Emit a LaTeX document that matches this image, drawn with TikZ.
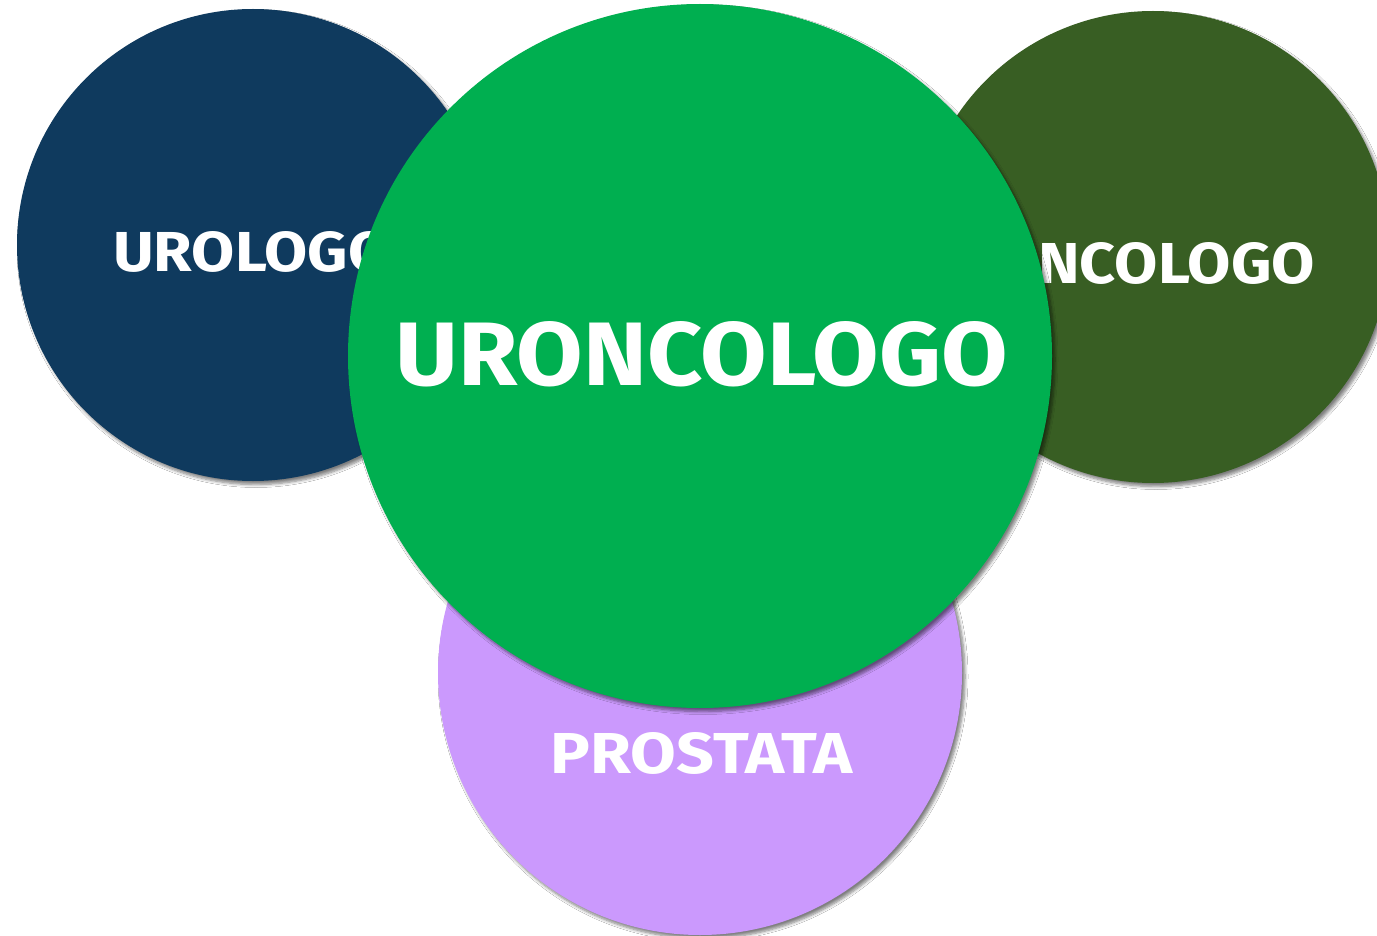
\documentclass[tikz,border=0pt]{standalone}
\usepackage{fontspec}
\setmainfont{Fira Sans}
\usetikzlibrary{shadows.blur}
\definecolor{cblue}{HTML}{0F3A5E}
\definecolor{cdkgreen}{HTML}{385E23}
\definecolor{cgreen}{HTML}{00AF50}
\definecolor{clav}{HTML}{CB99FD}
\newcommand{\fitlbl}[3]{\resizebox{#1pt}{#2pt}{\bfseries #3}}
\tikzset{
  disc/.style={circle, inner sep=0pt, minimum size=#1, draw=none,
    blur shadow={shadow xshift=3pt, shadow yshift=-3.5pt, shadow blur steps=6, shadow opacity=50, shadow blur radius=3pt}},
  lbl/.style={text=white, inner sep=0pt, font=\bfseries\fontsize{40}{40}\selectfont}
}
\begin{document}
\begin{tikzpicture}[x=1pt,y=-1pt]
\useasboundingbox (0,0) rectangle (1377,936);
\clip (0,0) rectangle (1377,936);
\fill[white] (0,0) rectangle (1377,936);
\node[disc=472pt, fill=cblue] (uro) at (253,245) {};
\node[lbl, anchor=base west] (urot) at (113,272) {\fitlbl{278}{40}{UROLOGO}};
\node[disc=472pt, fill=cdkgreen] (onc) at (1153,247) {};
\node[lbl, anchor=base east] (onct) at (1315,284) {\fitlbl{320}{41}{ONCOLOGO}};
\node[disc=524pt, fill=clav] (pro) at (700,673) {};
\node[lbl, anchor=base] (prot) at (702,773) {\fitlbl{302}{41}{PROSTATA}};
\node[disc=704pt, fill=cgreen] (uronc) at (700,356) {};
\node[lbl, anchor=base] (uronct) at (702,385) {\fitlbl{612}{64}{URONCOLOGO}};
\end{tikzpicture}
\end{document}
